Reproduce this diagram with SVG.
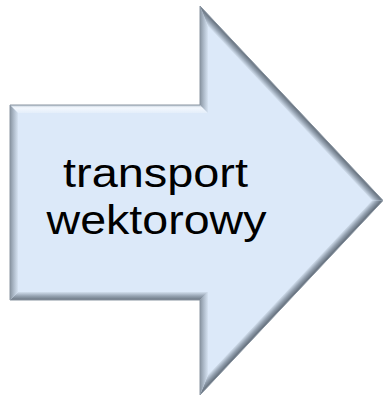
<svg xmlns="http://www.w3.org/2000/svg" width="383" height="396" viewBox="0 0 383 396">
  <defs>
    <style>
      .label { font-family: "Liberation Sans", Arial, sans-serif; font-size: 41px; fill: #000; text-anchor: middle; }
      .outline { fill: none; stroke: #8a95a1; stroke-width: 1; stroke-linejoin: miter; }
    </style>
    <!-- bevel shading: outer edge to inner edge -->
    <linearGradient id="bevelTop" x1="0" y1="0" x2="0" y2="1">
      <stop offset="0" stop-color="#c2cedb"/>
      <stop offset="0.35" stop-color="#f3f8fe"/>
      <stop offset="1" stop-color="#e4eefa"/>
    </linearGradient>
    <linearGradient id="bevelLeft" x1="0" y1="0" x2="1" y2="0">
      <stop offset="0" stop-color="#8894a1"/>
      <stop offset="0.5" stop-color="#b0bdcc"/>
      <stop offset="1" stop-color="#d6e3f2"/>
    </linearGradient>
    <linearGradient id="bevelBottom" x1="0" y1="1" x2="0" y2="0">
      <stop offset="0" stop-color="#6a7581"/>
      <stop offset="0.5" stop-color="#96a3b2"/>
      <stop offset="1" stop-color="#d2dfee"/>
    </linearGradient>
    <linearGradient id="bevelUpperDiag" gradientUnits="userSpaceOnUse" x1="291.5" y1="103.25" x2="285.67" y2="108.73">
      <stop offset="0" stop-color="#636e7a"/>
      <stop offset="0.5" stop-color="#95a2b1"/>
      <stop offset="1" stop-color="#d5e2f1"/>
    </linearGradient>
    <linearGradient id="bevelLowerDiag" gradientUnits="userSpaceOnUse" x1="291.5" y1="297.75" x2="285.67" y2="292.27">
      <stop offset="0" stop-color="#5f6a76"/>
      <stop offset="0.5" stop-color="#909dac"/>
      <stop offset="1" stop-color="#d2dfee"/>
    </linearGradient>
  </defs>

  <g id="arrow-node">
    <!-- base face -->
    <polygon points="10,105 200,105 200,6 383,200.5 200,395 200,300 10,300" fill="#dce9f9"/>
    <!-- bevel faces -->
    <polygon points="10,105 200,105 208,113 18,113" fill="url(#bevelTop)"/>
    <polygon points="200,105 200,6 208,26.2 208,113" fill="url(#bevelLeft)"/>
    <polygon points="200,6 383,200.5 372,200.5 208,26.2" fill="url(#bevelUpperDiag)"/>
    <polygon points="383,200.5 200,395 208,374.8 372,200.5" fill="url(#bevelLowerDiag)"/>
    <polygon points="200,395 200,300 208,292 208,374.8" fill="url(#bevelLeft)"/>
    <polygon points="200,300 10,300 18,292 208,292" fill="url(#bevelBottom)"/>
    <polygon points="10,300 10,105 18,113 18,292" fill="url(#bevelLeft)"/>
    <!-- inner face -->
    <polygon points="18,113 208,113 208,26.2 372,200.5 208,374.8 208,292 18,292" fill="#dce9f9"/>
    <polygon class="outline" points="10,105 200,105 200,6 383,200.5 200,395 200,300 10,300"/>
    <text class="label" x="155.5" y="186.5" textLength="185" lengthAdjust="spacingAndGlyphs">transport</text>
    <text class="label" x="156.5" y="234" textLength="220" lengthAdjust="spacingAndGlyphs">wektorowy</text>
  </g>
</svg>
